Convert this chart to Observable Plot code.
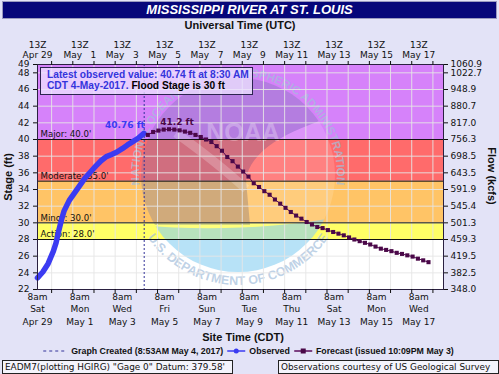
<!DOCTYPE html>
<html><head><meta charset="utf-8">
<script src="https://cdn.jsdelivr.net/npm/d3@7"></script>
<script src="https://cdn.jsdelivr.net/npm/@observablehq/plot@0.6"></script>
<style>
html,body{margin:0;padding:0;}
body{width:499px;height:374px;background:#e3e3f7;position:relative;overflow:hidden;font-family:"DejaVu Sans",sans-serif;color:#111;}
.abs{position:absolute;white-space:nowrap;}
#chart{position:absolute;left:0;top:0;}
#title{left:2px;top:1px;width:493px;height:16px;background:#06067a;border:1px solid #9a9ac0;color:#fff;font:italic bold 13px "Liberation Sans",Arial,sans-serif;text-align:center;line-height:16px;}
.axt{font:bold 11px "Liberation Sans",Arial,sans-serif;transform:translate(-50%,-50%);}
#latest{left:40px;top:67px;width:205px;height:25px;border:1.5px solid #2c2450;background:rgba(236,226,255,0.78);font:bold 10.2px "Liberation Sans",Arial,sans-serif;color:#3434dc;padding:1px 0 0 6px;line-height:11px;}
#legend{left:248px;top:351px;transform:translate(-50%,-50%);font:bold 8.8px "Liberation Sans",Arial,sans-serif;display:flex;align-items:center;gap:3px;}
#legend svg{display:block;}
.foot{top:360px;height:12px;border:1px solid #222;background:#f4f4fc;font:8.9px "DejaVu Sans",sans-serif;line-height:12px;padding:0 2px;}
</style></head><body>
<div id="chart"></div>
<div id="title" class="abs">MISSISSIPPI RIVER AT ST. LOUIS</div>
<div class="abs axt" style="left:240px;top:25px;">Universal Time (UTC)</div>
<div class="abs axt" style="left:243px;top:337px;">Site Time (CDT)</div>
<div class="abs axt" style="left:8px;top:177px;transform:translate(-50%,-50%) rotate(-90deg);">Stage (ft)</div>
<div class="abs axt" style="left:492px;top:176px;transform:translate(-50%,-50%) rotate(90deg);">Flow (kcfs)</div>
<div id="latest" class="abs">Latest observed value: 40.74 ft at 8:30 AM<br>CDT 4-May-2017. <span style="color:#000">Flood Stage is 30 ft</span></div>
<div id="legend" class="abs">
<svg width="26" height="6"><line x1="1" y1="3" x2="25" y2="3" stroke="#333399" stroke-dasharray="3,3"/></svg><span>Graph Created (8:53AM May 4, 2017)</span>
<svg width="20" height="8"><line x1="1" y1="4" x2="19" y2="4" stroke="#3b3bf2" stroke-width="1.5"/><circle cx="10" cy="4" r="2.5" fill="#3b3bf2"/></svg><span>Observed</span>
<svg width="20" height="8"><line x1="1" y1="4" x2="19" y2="4" stroke="#5a0a5a" stroke-width="1.5"/><rect x="7.5" y="1.5" width="5" height="5" fill="#4a0848"/></svg><span>Forecast (issued 10:09PM May 3)</span>
</div>
<div class="abs foot" style="left:2px;width:225px;">EADM7(plotting HGIRG) "Gage 0" Datum: 379.58'</div>
<div class="abs foot" style="left:278px;width:215px;">Observations courtesy of US Geological Survey</div>
<script>
// ---------- data (site time CDT, stored as UTC wall clock) ----------
const obsTimes = ["2017-04-29T08:00","2017-04-29T14:00","2017-04-29T20:00","2017-04-30T02:00","2017-04-30T05:00",
  "2017-04-30T08:00","2017-04-30T11:00","2017-04-30T14:00","2017-04-30T20:00","2017-05-01T02:00","2017-05-01T08:00",
  "2017-05-01T14:00","2017-05-01T20:00","2017-05-02T02:00","2017-05-02T08:00","2017-05-02T14:00","2017-05-02T20:00",
  "2017-05-03T02:00","2017-05-03T08:00","2017-05-03T14:00","2017-05-03T20:00","2017-05-04T02:00","2017-05-04T08:30"];
const obsStage = [23.4,24.1,25.1,26.6,27.6,29.0,30.3,31.4,32.7,33.6,34.5,35.4,36.1,36.8,37.45,37.95,38.2,38.5,38.9,39.35,39.75,40.15,40.74];

const fcstStart = "2017-05-04T13:00"; // 6-hourly forecast values
const fcstStage = [40.55,40.9,41.07,41.19,41.23,41.19,41.1,40.95,40.8,40.55,40.3,40.0,39.7,39.2,38.65,37.9,37.4,36.75,
  36.15,35.55,34.75,34.3,33.8,33.37,32.8,32.3,31.8,31.3,30.87,30.5,30.1,29.8,29.5,29.37,29.13,28.9,28.7,28.5,28.25,
  28.0,27.8,27.6,27.4,27.15,26.9,26.75,26.6,26.4,26.27,26.1,25.95,25.7,25.5,25.28];

const stageTicks = [22,24,26,28,30,32,34,36,38,40,42,44,46,48,49];
const flowLabels = ["348.0","382.5","419.5","459.3","501.3","545.4","591.9","643.5","698.5","756.3","817.0","880.7","948.9","1022.7","1060.9"];
const gridStages = [24,26,28,30,32,34,36,38,40,42,44,46,48];

const bandLo = [22,28,30,35,40];
const bandHi = [28,30,35,40,49];
const bandColor = ["#ffffff","#ffff66","#ffc466","#ff6b6b","#d682fa"];
const floodLevels = [40,35,30,28];
const floodNames = ["Major: 40.0'","Moderate: 35.0'","Minor: 30.0'","Action: 28.0'"];

const labelDays = ["2017-04-29","2017-05-01","2017-05-03","2017-05-05","2017-05-07","2017-05-09","2017-05-11","2017-05-13","2017-05-15","2017-05-17"];
const dayNames = ["Sat","Mon","Wed","Fri","Sun","Tue","Thu","Sat","Mon","Wed"];
const dateLabels = ["Apr 29","May 1","May 3","May 5","May 7","May 9","May 11","May 13","May 15","May 17"];
const topDateLabels = ["Apr 29","May \u20071","May \u20073","May \u20075","May \u20077","May \u20079","May 11","May 13","May 15","May 17"];
const graphCreated = "2017-05-04T08:53";
const obsLabel = "40.76 ft";
const peakLabel = "41.2 ft";

// ---------- build ----------
const P = s => new Date(s + (s.length === 10 ? "T08:00" : "") + "Z");
const obs = obsTimes.map((t, i) => ({t: P(t), v: obsStage[i]}));
const f0 = P(fcstStart);
const fcst = fcstStage.map((v, i) => ({t: new Date(+f0 + i * 6 * 3600e3), v}));
const xDomain = [P("2017-04-29T08:00"), P("2017-05-18T12:00")];
const dayTicks = d3.utcHour.every(24).range(xDomain[0], new Date(+xDomain[1] + 1));
const labelDates = labelDays.map(P);
const flowMap = new Map(stageTicks.map((s, i) => [s, flowLabels[i]]));
const bands = bandLo.map((lo, i) => ({lo, hi: bandHi[i], c: bandColor[i]}));
const floods = floodLevels.map((v, i) => ({v, name: floodNames[i]}));
const peak = fcst.reduce((a, b) => b.v > a.v ? b : a);
const lastObs = obs[obs.length - 1];

function watermark(index, scales, values, dims) {
  const cx = 238, cy = 175; // faint NOAA seal (decoration)
  const g = d3.create("svg:g").attr("pointer-events", "none");
  g.append("defs").append("clipPath").attr("id", "wmclip")
    .append("circle").attr("cx", cx).attr("cy", cy).attr("r", 97);
  const inner = g.append("g").attr("clip-path", "url(#wmclip)");
  inner.append("rect").attr("x", cx - 100).attr("y", cy - 100).attr("width", 200).attr("height", 200)
    .attr("fill", "#fff").attr("fill-opacity", 0.15);
  inner.append("path")
    .attr("d", `M${cx-100},${cy-100}L${cx+100},${cy-100}L${cx+100},${cy-60}C${cx+50},${cy-45} ${cx+12},${cy-25} ${cx+8},${cy+5}L${cx+12},${cy+50}L${cx-100},${cy+50}Z`)
    .attr("fill", "#16237a").attr("fill-opacity", 0.2);
  inner.append("path")
    .attr("d", `M${cx-100},${cy+50}C${cx-40},${cy+56} ${cx+40},${cy+54} ${cx+100},${cy+42}L${cx+100},${cy+100}L${cx-100},${cy+100}Z`)
    .attr("fill", "#7ccaf0").attr("fill-opacity", 0.55);
  inner.append("path")
    .attr("d", `M${cx-62},${cy-42}Q${cx-20},${cy-12} ${cx+8},${cy+14}`)
    .attr("fill", "none").attr("stroke", "#fff").attr("stroke-width", 9).attr("stroke-opacity", 0.22);
  const r1 = 99, a1 = 15 * Math.PI / 180;
  g.append("path").attr("id", "wmtop").attr("fill", "none")
    .attr("d", `M${cx - r1*Math.cos(a1)},${cy + r1*Math.sin(a1)}A${r1},${r1} 0 1 1 ${cx + r1*Math.cos(a1)},${cy + r1*Math.sin(a1)}`);
  const r2 = 110, a2 = 25 * Math.PI / 180;
  g.append("path").attr("id", "wmbot").attr("fill", "none")
    .attr("d", `M${cx - r2*Math.cos(a2)},${cy + r2*Math.sin(a2)}A${r2},${r2} 0 0 0 ${cx + r2*Math.cos(a2)},${cy + r2*Math.sin(a2)}`);
  const ring = g.append("g").attr("fill", "#a3bedb").attr("fill-opacity", 0.7)
    .attr("font-family", "Liberation Sans, Arial, sans-serif").attr("font-weight", "bold");
  ring.append("text").attr("font-size", 11.5).append("textPath").attr("href", "#wmtop")
    .attr("startOffset", "50%").attr("text-anchor", "middle")
    .text("NATIONAL OCEANIC AND ATMOSPHERIC ADMINISTRATION");
  ring.append("text").attr("font-size", 12.5).append("textPath").attr("href", "#wmbot")
    .attr("startOffset", "50%").attr("text-anchor", "middle")
    .text("U.S. DEPARTMENT OF COMMERCE");
  g.append("text").attr("x", 243).attr("y", 141).attr("text-anchor", "middle")
    .attr("font-family", "Liberation Sans, Arial, sans-serif").attr("font-weight", "bold")
    .attr("font-size", 25).attr("fill", "#fff").attr("fill-opacity", 0.3).text("NOAA");
  return g.node();
}

const chart = Plot.plot({
  width: 499, height: 374,
  marginTop: 64, marginBottom: 85, marginLeft: 37, marginRight: 56,
  style: {background: "transparent", fontFamily: "DejaVu Sans, sans-serif", fontSize: "9px", color: "#111"},
  x: {type: "utc", domain: xDomain},
  y: {domain: [22, 49]},
  color: {type: "identity"},
  marks: [
    Plot.rect(bands, {x1: () => xDomain[0], x2: () => xDomain[1], y1: "lo", y2: "hi", fill: "c"}),
    watermark,
    Plot.gridX({ticks: dayTicks, stroke: "#e6e6e6", strokeOpacity: 0.9}),
    Plot.gridY({ticks: gridStages, stroke: "#e6e6e6", strokeOpacity: 0.9}),
    Plot.ruleY(floods, {y: "v", stroke: "#111", strokeWidth: 1}),
    Plot.text(floods, {y: "v", text: "name", frameAnchor: "left", textAnchor: "start", dx: 3, dy: -5, fontSize: 8.6, fill: "#111"}),
    Plot.ruleX([P(graphCreated)], {stroke: "#333399", strokeDasharray: "2,2"}),
    Plot.line(obs, {x: "t", y: "v", stroke: "#3b3bf2", strokeWidth: 5.5, strokeLinejoin: "round", strokeLinecap: "round"}),
    Plot.line(fcst, {x: "t", y: "v", stroke: "#5a0a5a", strokeWidth: 1}),
    Plot.dot(fcst, {x: "t", y: "v", symbol: "square", r: 2.3, fill: "#4a0848", stroke: "none"}),
    Plot.text([lastObs], {x: "t", y: "v", text: () => obsLabel, textAnchor: "end", dx: 1, dy: -8, fill: "#3b3bf2", fontWeight: "bold", fontSize: 9}),
    Plot.text([peak], {x: "t", y: "v", text: () => peakLabel, textAnchor: "middle", dx: 8, dy: -7, fill: "#4a0848", fontWeight: "bold", fontSize: 9}),
    Plot.frame({stroke: "#2a2040"}),
    Plot.axisY({anchor: "left", ticks: stageTicks, tickSize: 4, tickPadding: 4, label: null, fontSize: 9, fill: "#111"}),
    Plot.axisY({anchor: "right", ticks: stageTicks, tickFormat: d => flowMap.get(d), tickSize: 4, tickPadding: 3, label: null, fontSize: 9, fill: "#111"}),
    Plot.axisX({anchor: "bottom", ticks: dayTicks, tickFormat: () => "", tickSize: 4, label: null}),
    Plot.axisX({anchor: "top", ticks: dayTicks, tickFormat: () => "", tickSize: 4, label: null}),
    Plot.text(labelDates, {x: d => d, text: () => "8am", frameAnchor: "bottom", dy: 10, fontSize: 9, fill: "#111"}),
    Plot.text(labelDates, {x: d => d, text: (d, i) => dayNames[i], frameAnchor: "bottom", dy: 22, fontSize: 9, fill: "#111"}),
    Plot.text(labelDates, {x: d => d, text: (d, i) => dateLabels[i], frameAnchor: "bottom", dy: 35, fontSize: 9, fill: "#111"}),
    Plot.text(labelDates, {x: d => d, text: () => "13Z", frameAnchor: "top", dy: -23, fontSize: 9, fill: "#111"}),
    Plot.text(labelDates, {x: d => d, text: (d, i) => topDateLabels[i], frameAnchor: "top", dy: -13, fontSize: 9, fill: "#111"})
  ]
});
document.getElementById("chart").appendChild(chart);
</script>
</body></html>
